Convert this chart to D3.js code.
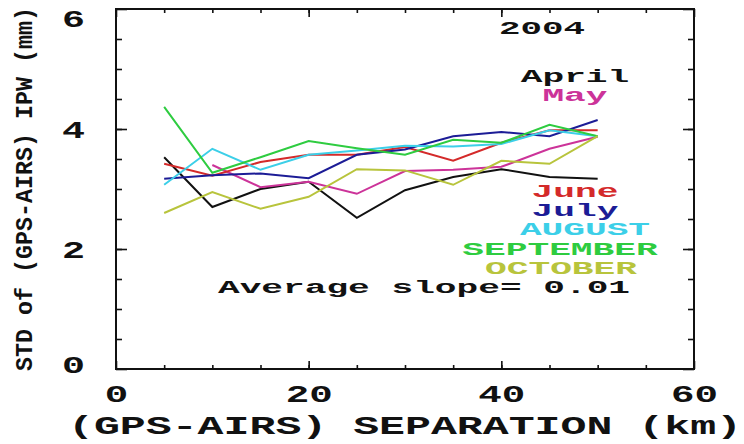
<!DOCTYPE html>
<html>
<head>
<meta charset="utf-8">
<script src="https://cdn.jsdelivr.net/npm/d3@7"></script>
<style>
  body { margin: 0; background: #fff; }
  text { font-family: "Liberation Mono", "DejaVu Sans Mono", monospace; font-weight: bold; }
</style>
</head>
<body>
<svg width="744" height="444"></svg>
<script>
// separation bins (km)
var separation = [5, 10, 15, 20, 25, 30, 35, 40, 45, 50];

// STD of GPS-AIRS IPW (mm), per month
var april     = [3.53, 2.70, 3.00, 3.12, 2.52, 2.98, 3.20, 3.33, 3.20, 3.17];
var may       = [null, 3.40, 3.03, 3.12, 2.92, 3.30, 3.32, 3.37, 3.67, 3.87];
var june      = [3.42, 3.22, 3.45, 3.57, 3.57, 3.70, 3.47, 3.77, 3.98, 3.98];
var july      = [3.17, 3.23, 3.26, 3.18, 3.57, 3.66, 3.88, 3.95, 3.88, 4.15];
var august    = [3.07, 3.67, 3.32, 3.57, 3.64, 3.72, 3.71, 3.75, 3.98, 3.88];
var september = [4.37, 3.27, 3.53, 3.80, 3.68, 3.57, 3.82, 3.77, 4.07, 3.88];
var october   = [2.60, 2.95, 2.67, 2.87, 3.33, 3.31, 3.07, 3.47, 3.42, 3.88];

var monthNames = ["April", "May", "June", "July", "AUGUST", "SEPTEMBER", "OCTOBER"];
var monthValues = [april, may, june, july, august, september, october];
var monthColors = ["#111111", "#cc3399", "#d42a2a", "#1c1c96", "#3ccfe8", "#2ecc40", "#b8c43c"];

var xTicks = [0, 20, 40, 60];
var yTicks = [0, 2, 4, 6];

var svg = d3.select("svg"),
margin = {top: 9, right: 50, bottom: 75, left: 116},
width = 694 - margin.left,
height = 369 - margin.top;

var g = svg.append("g")
.attr("transform", "translate(" + margin.left + "," + margin.top + ")");

var x = d3.scaleLinear().domain([0, 60]).range([0, width]);
var y = d3.scaleLinear().domain([0, 6]).range([height, 0]);

// frame
g.append("rect")
.attr("width", width)
.attr("height", height)
.attr("fill", "none")
.style("stroke", "#111")
.style("stroke-width", 2);

function styleAxis(sel) {
  sel.select(".domain").remove();
  sel.selectAll(".tick line").style("stroke", "#111").style("stroke-width", 1.6);
}

// minor ticks
g.append("g").call(d3.axisLeft(y).tickValues(d3.range(0.5, 6, 0.5)).tickSize(-6).tickFormat(""))
.call(styleAxis);
g.append("g").attr("transform", "translate(" + width + ",0)")
.call(d3.axisRight(y).tickValues(d3.range(0.5, 6, 0.5)).tickSize(-6).tickFormat(""))
.call(styleAxis);
g.append("g").attr("transform", "translate(0," + height + ")")
.call(d3.axisBottom(x).tickValues(d3.range(5, 60, 5)).tickSize(-4).tickFormat(""))
.call(styleAxis);
g.append("g")
.call(d3.axisTop(x).tickValues(d3.range(5, 60, 5)).tickSize(-4).tickFormat(""))
.call(styleAxis);

// major ticks + labels
var yAxis = g.append("g")
.call(d3.axisLeft(y).tickValues(yTicks).tickSize(-11).tickPadding(31).tickFormat(d3.format("d")))
.call(styleAxis);
yAxis.selectAll("text")
.style("font-family", "Liberation Mono").style("font-weight", "bold")
.attr("font-size", 23).attr("fill", "#111")
.attr("dy", function(d) { return d == 6 ? "0.75em" : d == 0 ? "0.15em" : "0.35em"; })
.attr("textLength", 23).attr("lengthAdjust", "spacingAndGlyphs");

g.append("g").attr("transform", "translate(" + width + ",0)")
.call(d3.axisRight(y).tickValues(yTicks).tickSize(-11).tickFormat(""))
.call(styleAxis);

var xAxis = g.append("g").attr("transform", "translate(0," + height + ")")
.call(d3.axisBottom(x).tickValues(xTicks).tickSize(-8).tickPadding(0).tickFormat(d3.format("d")))
.call(styleAxis);
xAxis.selectAll("text")
.style("font-family", "Liberation Mono").style("font-weight", "bold")
.attr("font-size", 23).attr("fill", "#111")
.attr("y", 33).attr("dy", 0)
.attr("textLength", function(d) { return String(d).length * 23.5; })
.attr("lengthAdjust", "spacingAndGlyphs");

g.append("g")
.call(d3.axisTop(x).tickValues(xTicks).tickSize(-8).tickFormat(""))
.call(styleAxis);

// axis titles
svg.append("text")
.attr("x", margin.left + width / 2)
.attr("y", 434)
.attr("text-anchor", "middle")
.attr("font-size", 26)
.attr("fill", "#111")
.attr("textLength", 674)
.attr("lengthAdjust", "spacingAndGlyphs")
.text("(GPS-AIRS) SEPARATION (km)");

svg.append("text")
.attr("transform", "translate(32," + (margin.top + height / 2) + ") rotate(-90)")
.attr("text-anchor", "middle")
.attr("font-size", 24)
.attr("fill", "#111")
.attr("textLength", 364)
.attr("lengthAdjust", "spacingAndGlyphs")
.text("STD of (GPS-AIRS) IPW (mm)");

// lines
var line = d3.line()
.defined(function(d) { return d != null; })
.x(function(d, i) { return x(separation[i]); })
.y(function(d) { return y(d); });

g.selectAll(".month")
.data(monthValues)
.enter().append("path")
.attr("class", "month")
.attr("fill", "none")
.attr("stroke", function(d, i) { return monthColors[i]; })
.attr("stroke-width", 2)
.attr("d", line);

// legend text (positions in page pixels)
var legendX = [575, 575, 575, 575, 585, 560, 561];
var legendY = [82, 101, 197, 216, 235, 255, 274];

svg.selectAll(".legend")
.data(monthNames)
.enter().append("text")
.attr("class", "legend")
.attr("x", function(d, i) { return legendX[i]; })
.attr("y", function(d, i) { return legendY[i]; })
.attr("text-anchor", "middle")
.attr("font-size", 17.5)
.attr("fill", function(d, i) { return monthColors[i]; })
.attr("textLength", function(d) { return d.length * 21.7; })
.attr("lengthAdjust", "spacingAndGlyphs")
.text(function(d) { return d; });

svg.append("text")
.attr("x", 542).attr("y", 34)
.attr("text-anchor", "middle")
.attr("font-size", 19).attr("fill", "#111")
.attr("textLength", 86).attr("lengthAdjust", "spacingAndGlyphs")
.text("2004");

svg.append("text")
.attr("x", 424).attr("y", 293)
.attr("text-anchor", "middle")
.attr("font-size", 18.5).attr("fill", "#111")
.attr("textLength", 412).attr("lengthAdjust", "spacingAndGlyphs")
.text("Average slope= 0.01");
</script>
</body>
</html>
